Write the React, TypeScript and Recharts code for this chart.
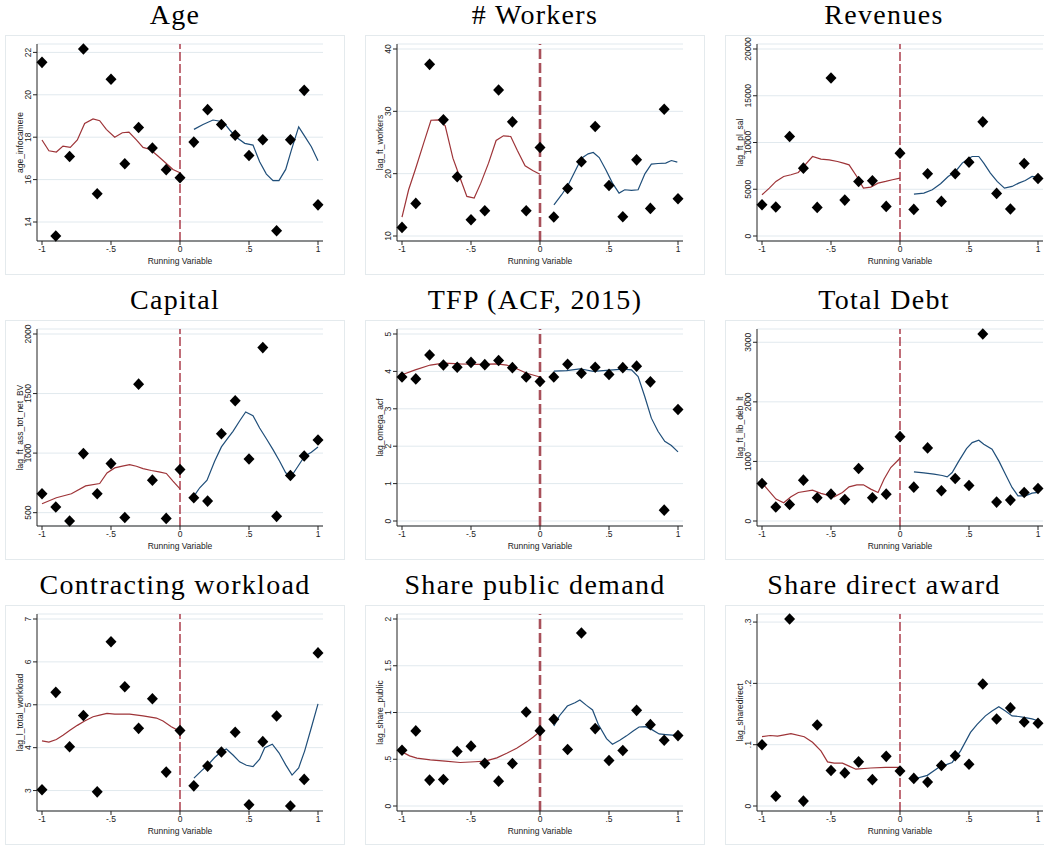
import { ComposedChart, Scatter, Line, XAxis, YAxis, CartesianGrid, ReferenceLine } from 'recharts';

type Pt = [number, number];

const bins = [-1, -0.9, -0.8, -0.7, -0.6, -0.5, -0.4, -0.3, -0.2, -0.1, 0, 0.1, 0.2, 0.3, 0.4, 0.5, 0.6, 0.7, 0.8, 0.9, 1];
const xTicks = [-1, -0.5, 0, 0.5, 1];

// Age
const ageMeans = [21.53, 13.34, 17.09, 22.16, 15.33, 20.73, 16.75, 18.46, 17.49, 16.47, 16.09, 17.77, 19.3, 18.6, 18.09, 17.14, 17.88, 13.59, 17.88, 20.21, 14.81];
const ageTicks = [14, 16, 18, 20, 22];
const ageLeft: Pt[] = [[-1, 17.87], [-0.95, 17.36], [-0.896, 17.3], [-0.848, 17.58], [-0.795, 17.52], [-0.744, 17.87], [-0.691, 18.65], [-0.63, 18.86], [-0.582, 18.78], [-0.534, 18.37], [-0.473, 18.0], [-0.418, 18.21], [-0.37, 18.24], [-0.316, 17.87], [-0.268, 17.52], [-0.215, 17.42], [-0.16, 17.11], [-0.099, 16.76], [-0.051, 16.48], [0, 16.32]];
const ageRight: Pt[] = [[0.101, 18.37], [0.167, 18.6], [0.239, 18.81], [0.312, 18.73], [0.36, 18.34], [0.408, 18.0], [0.469, 17.71], [0.529, 17.63], [0.577, 16.84], [0.626, 16.26], [0.674, 15.95], [0.717, 15.95], [0.766, 16.48], [0.807, 17.39], [0.86, 18.49], [0.903, 18.05], [0.952, 17.55], [1, 16.89]];

// # Workers
const workersMeans = [11.38, 15.23, 37.54, 28.63, 19.5, 12.61, 14.05, 33.43, 28.31, 14.05, 24.2, 13.04, 17.63, 21.9, 27.56, 18.11, 13.1, 22.22, 14.43, 30.34, 15.97];
const workersTicks = [10, 20, 30, 40];
const workersLeft: Pt[] = [[-1, 13.04], [-0.952, 17.42], [-0.904, 20.62], [-0.843, 24.89], [-0.79, 28.57], [-0.735, 28.63], [-0.687, 27.67], [-0.631, 22.49], [-0.583, 19.55], [-0.53, 16.35], [-0.477, 16.08], [-0.429, 18.48], [-0.373, 21.69], [-0.318, 25.32], [-0.265, 26.07], [-0.212, 25.96], [-0.164, 23.72], [-0.108, 21.26], [-0.053, 20.51], [0, 19.92]];
const workersRight: Pt[] = [[0.101, 15.01], [0.157, 16.62], [0.205, 18.22], [0.253, 20.35], [0.301, 22.49], [0.349, 23.18], [0.386, 23.4], [0.429, 22.59], [0.477, 20.62], [0.525, 18.48], [0.573, 16.88], [0.614, 17.42], [0.663, 17.31], [0.711, 17.42], [0.76, 19.98], [0.807, 21.53], [0.855, 21.63], [0.911, 21.69], [0.952, 22.11], [0.995, 21.85]];

// Revenues
const revMeans = [3344, 3095, 10640, 7259, 3060, 16904, 3842, 5835, 5906, 3165, 8860, 2846, 6654, 3700, 6654, 7900, 12206, 4554, 2881, 7757, 6155];
const revTicks = [0, 5000, 10000, 15000, 20000];
const revLeft: Pt[] = [[-1, 4411], [-0.947, 5123], [-0.899, 5835], [-0.843, 6369], [-0.79, 6547], [-0.737, 6796], [-0.694, 7508], [-0.634, 8504], [-0.573, 8220], [-0.513, 8149], [-0.453, 7971], [-0.41, 7793], [-0.369, 7615], [-0.313, 6369], [-0.265, 5123], [-0.212, 5230], [-0.159, 5657], [-0.104, 5835], [-0.055, 6013], [0, 6191]];
const revRight: Pt[] = [[0.101, 4483], [0.173, 4590], [0.234, 4945], [0.294, 5586], [0.349, 6369], [0.402, 6903], [0.451, 7793], [0.499, 8327], [0.523, 8504], [0.571, 8504], [0.607, 7793], [0.655, 6725], [0.704, 5835], [0.757, 5123], [0.812, 5301], [0.86, 5657], [0.908, 5942], [0.957, 6369], [1, 6298]];

// Capital
const capMeans = [659, 547, 430, 996, 659, 912, 460, 1579, 773, 452, 862, 625, 597, 1163, 1439, 951, 1886, 469, 812, 976, 1110];
const capTicks = [500, 1000, 1500, 2000];
const capLeft: Pt[] = [[-1, 575], [-0.896, 625], [-0.787, 659], [-0.684, 725], [-0.582, 745], [-0.529, 834], [-0.473, 876], [-0.418, 890], [-0.365, 904], [-0.316, 890], [-0.268, 870], [-0.208, 854], [-0.152, 843], [-0.099, 829], [-0.051, 765], [0, 700]];
const capRight: Pt[] = [[0.101, 639], [0.143, 709], [0.196, 773], [0.251, 932], [0.3, 1052], [0.348, 1127], [0.384, 1183], [0.433, 1272], [0.476, 1345], [0.529, 1314], [0.577, 1211], [0.626, 1121], [0.674, 1029], [0.722, 932], [0.766, 834], [0.807, 806], [0.855, 890], [0.903, 974], [0.952, 1007], [1, 1052]];

// TFP
const tfpMeans = [3.85, 3.8, 4.44, 4.17, 4.11, 4.24, 4.18, 4.29, 4.1, 3.85, 3.73, 3.85, 4.19, 3.95, 4.11, 3.92, 4.1, 4.14, 3.72, 0.29, 2.98];
const tfpTicks = [0, 1, 2, 3, 4, 5];
const tfpLeft: Pt[] = [[-1, 3.91], [-0.904, 4.04], [-0.795, 4.17], [-0.699, 4.22], [-0.578, 4.2], [-0.458, 4.19], [-0.313, 4.2], [-0.241, 4.17], [-0.169, 4.07], [-0.096, 3.95], [0, 3.85]];
const tfpRight: Pt[] = [[0.101, 4.01], [0.193, 4.02], [0.289, 4.07], [0.386, 4.0], [0.482, 4.03], [0.602, 4.06], [0.663, 4.04], [0.711, 3.86], [0.759, 3.33], [0.807, 2.75], [0.855, 2.4], [0.904, 2.13], [0.952, 2.02], [1, 1.85]];

// Total Debt
const debtMeans = [630, 234, 278, 686, 390, 451, 362, 881, 390, 451, 1416, 568, 1227, 507, 713, 596, 3139, 317, 351, 479, 546];
const debtTicks = [0, 1000, 2000, 3000];
const debtLeft: Pt[] = [[-1, 641], [-0.899, 368], [-0.843, 306], [-0.79, 407], [-0.737, 479], [-0.634, 518], [-0.573, 463], [-0.477, 407], [-0.417, 479], [-0.369, 574], [-0.313, 607], [-0.265, 607], [-0.212, 535], [-0.159, 479], [-0.116, 702], [-0.067, 897], [0, 1054]];
const debtRight: Pt[] = [[0.101, 825], [0.173, 808], [0.246, 786], [0.306, 764], [0.342, 741], [0.378, 814], [0.427, 1009], [0.482, 1215], [0.523, 1316], [0.571, 1355], [0.607, 1288], [0.667, 1204], [0.716, 1009], [0.764, 786], [0.812, 563], [0.855, 423], [0.908, 423], [0.957, 468], [1, 479]];

// Contracting workload
const loadMeans = [3.02, 5.29, 4.02, 4.75, 2.97, 6.47, 5.42, 4.45, 5.14, 3.43, 4.4, 3.11, 3.57, 3.9, 4.36, 2.67, 4.14, 4.74, 2.64, 3.26, 6.21];
const loadTicks = [3, 4, 5, 6, 7];
const loadLeft: Pt[] = [[-1, 4.16], [-0.95, 4.13], [-0.896, 4.19], [-0.848, 4.29], [-0.795, 4.41], [-0.744, 4.52], [-0.691, 4.62], [-0.63, 4.72], [-0.582, 4.76], [-0.529, 4.8], [-0.473, 4.78], [-0.365, 4.78], [-0.268, 4.74], [-0.171, 4.69], [-0.123, 4.62], [-0.063, 4.49], [0, 4.38]];
const loadRight: Pt[] = [[0.101, 3.29], [0.155, 3.46], [0.203, 3.6], [0.251, 3.77], [0.3, 3.91], [0.336, 3.97], [0.384, 3.83], [0.432, 3.67], [0.481, 3.59], [0.529, 3.56], [0.577, 3.73], [0.614, 4.0], [0.669, 4.08], [0.717, 3.88], [0.766, 3.6], [0.812, 3.36], [0.86, 3.53], [0.903, 3.92], [0.952, 4.47], [1, 5.02]];

// Share public demand
const publicMeans = [0.597, 0.803, 0.277, 0.284, 0.583, 0.64, 0.458, 0.266, 0.455, 1.005, 0.806, 0.927, 0.604, 1.851, 0.828, 0.487, 0.593, 1.023, 0.87, 0.703, 0.753];
const publicTicks = [0, 0.5, 1, 1.5, 2];
const publicLeft: Pt[] = [[-1, 0.579], [-0.945, 0.536], [-0.892, 0.512], [-0.795, 0.494], [-0.687, 0.48], [-0.578, 0.465], [-0.47, 0.473], [-0.398, 0.48], [-0.313, 0.515], [-0.241, 0.565], [-0.169, 0.618], [-0.096, 0.686], [-0.048, 0.739], [0, 0.796]];
const publicRight: Pt[] = [[0.101, 0.856], [0.14, 0.963], [0.198, 1.069], [0.253, 1.105], [0.289, 1.133], [0.337, 1.076], [0.381, 1.027], [0.422, 0.874], [0.482, 0.721], [0.525, 0.661], [0.578, 0.703], [0.627, 0.75], [0.675, 0.803], [0.718, 0.845], [0.766, 0.849], [0.814, 0.814], [0.863, 0.771], [0.911, 0.764], [0.96, 0.757], [1, 0.757]];

// Share direct award
const directMeans = [0.1, 0.016, 0.305, 0.008, 0.132, 0.058, 0.054, 0.072, 0.043, 0.081, 0.057, 0.045, 0.039, 0.066, 0.082, 0.068, 0.199, 0.142, 0.16, 0.137, 0.135];
const directTicks = [0, 0.1, 0.2, 0.3];
const directLeft: Pt[] = [[-1, 0.113], [-0.94, 0.115], [-0.887, 0.114], [-0.79, 0.118], [-0.694, 0.113], [-0.634, 0.104], [-0.573, 0.09], [-0.525, 0.072], [-0.477, 0.07], [-0.417, 0.07], [-0.369, 0.065], [-0.32, 0.06], [-0.212, 0.062], [-0.104, 0.063], [0, 0.063]];
const directRight: Pt[] = [[0.101, 0.044], [0.198, 0.05], [0.282, 0.063], [0.378, 0.071], [0.439, 0.09], [0.511, 0.12], [0.559, 0.133], [0.619, 0.147], [0.667, 0.155], [0.716, 0.162], [0.764, 0.155], [0.812, 0.147], [0.86, 0.146], [0.908, 0.144], [0.957, 0.142], [1, 0.139]];

const panels = [
  { title: 'Age', yLabel: 'age_infocamere', means: ageMeans, ticks: ageTicks, left: ageLeft, right: ageRight },
  { title: '# Workers', yLabel: 'lag_ft_workers', means: workersMeans, ticks: workersTicks, left: workersLeft, right: workersRight },
  { title: 'Revenues', yLabel: 'lag_ft_pl_sal', means: revMeans, ticks: revTicks, left: revLeft, right: revRight },
  { title: 'Capital', yLabel: 'lag_ft_ass_tot_net_BV', means: capMeans, ticks: capTicks, left: capLeft, right: capRight },
  { title: 'TFP (ACF, 2015)', yLabel: 'lag_omega_acf', means: tfpMeans, ticks: tfpTicks, left: tfpLeft, right: tfpRight },
  { title: 'Total Debt', yLabel: 'lag_ft_lib_deb_lt', means: debtMeans, ticks: debtTicks, left: debtLeft, right: debtRight },
  { title: 'Contracting workload', yLabel: 'lag_l_total_workload', means: loadMeans, ticks: loadTicks, left: loadLeft, right: loadRight },
  { title: 'Share public demand', yLabel: 'lag_share_public', means: publicMeans, ticks: publicTicks, left: publicLeft, right: publicRight },
  { title: 'Share direct award', yLabel: 'lag_sharedirect', means: directMeans, ticks: directTicks, left: directLeft, right: directRight },
];

const colLeft = [5, 365, 725];
const rowTop = [35, 320, 605];
const W = 340;
const H = 240;

// stata style: .5 instead of 0.5
function fmt(v: number): string {
  const s = String(v);
  if (s.startsWith('0.')) return s.slice(1);
  if (s.startsWith('-0.')) return '-' + s.slice(2);
  return s;
}

function Diamond(props: any) {
  const { cx, cy } = props;
  if (cx == null || cy == null) return null;
  return <polygon points={`${cx},${cy - 5.8} ${cx + 5.5},${cy} ${cx},${cy + 5.8} ${cx - 5.5},${cy}`} fill="#000" />;
}

function YTick(props: any) {
  const { x, y, payload } = props;
  return (
    <text x={x - 1} y={y} transform={`rotate(-90 ${x - 1} ${y})`} textAnchor="middle" fontSize={8.5} fill="#222">
      {fmt(payload.value)}
    </text>
  );
}

function Panel({ p, col, row }: { p: typeof panels[number]; col: number; row: number }) {
  const pts = bins.map((x, i) => ({ x, y: p.means[i] }));
  const fitL = p.left.map(([x, y]) => ({ x, y }));
  const fitR = p.right.map(([x, y]) => ({ x, y }));
  const lo = Math.min(p.ticks[0], ...p.means);
  const hi = Math.max(p.ticks[p.ticks.length - 1], ...p.means);
  const thick = col === 1;
  const titleW = col === 2 ? 318 : W;
  return (
    <>
      <div style={{
        position: 'absolute', left: colLeft[col], top: rowTop[row] - 36, width: titleW, height: 32,
        lineHeight: '32px', textAlign: 'center', fontFamily: '"Liberation Serif", serif', fontSize: 28,
        letterSpacing: 1.3, color: '#000', whiteSpace: 'nowrap',
      }}>
        {p.title}
      </div>
      <div style={{
        position: 'absolute', left: colLeft[col], top: rowTop[row], width: W, height: H,
        background: '#fff', boxShadow: 'inset 0 0 0 1px #e4eaed',
      }}>
        <ComposedChart width={W} height={H} margin={{ top: 9, right: 22, left: 0, bottom: 0 }}>
          <CartesianGrid vertical={false} stroke="#e1e9ee" strokeWidth={1} />
          <XAxis
            type="number" dataKey="x" domain={[-1, 1]} ticks={xTicks}
            padding={{ left: 5, right: 5 }} height={34} tickSize={4} tickMargin={1}
            tickFormatter={fmt} tick={{ fontSize: 8.5, fill: '#222' }}
            axisLine={{ stroke: '#222' }} tickLine={{ stroke: '#222' }}
            label={{ value: 'Running Variable', position: 'insideBottom', offset: 11, style: { fontSize: 8.5, fill: '#222' } }}
          />
          <YAxis
            type="number" dataKey="y" domain={[lo, hi]} ticks={p.ticks} interval={0}
            padding={{ top: 5, bottom: 5 }} width={32} tickSize={4} tickMargin={1}
            tick={(tp: any) => <YTick {...tp} />}
            axisLine={{ stroke: '#222' }} tickLine={{ stroke: '#222' }}
            label={{ value: p.yLabel, angle: -90, position: 'insideLeft', offset: 15, style: { textAnchor: 'middle', fontSize: 8.5, fill: '#222' } }}
          />
          <ReferenceLine
            x={0}
            stroke={thick ? '#a8505a' : '#9e2030'}
            strokeWidth={thick ? 2.6 : 1.3}
            strokeDasharray={thick ? '10 4' : '9 3'}
          />
          <Scatter data={pts} dataKey="y" shape={Diamond} isAnimationActive={false} />
          <Line data={fitL} dataKey="y" type="linear" stroke="#9e3438" strokeWidth={1.2} dot={false} activeDot={false} isAnimationActive={false} />
          <Line data={fitR} dataKey="y" type="linear" stroke="#1f4e79" strokeWidth={1.2} dot={false} activeDot={false} isAnimationActive={false} />
        </ComposedChart>
      </div>
    </>
  );
}

export default function App() {
  return (
    <div style={{
      position: 'fixed', left: 0, top: 0, width: 1044, height: 845, overflow: 'hidden',
      background: '#fff', fontFamily: '"Liberation Sans", Arial, sans-serif',
    }}>
      {panels.map((p, i) => (
        <Panel key={p.title} p={p} col={i % 3} row={Math.floor(i / 3)} />
      ))}
    </div>
  );
}
